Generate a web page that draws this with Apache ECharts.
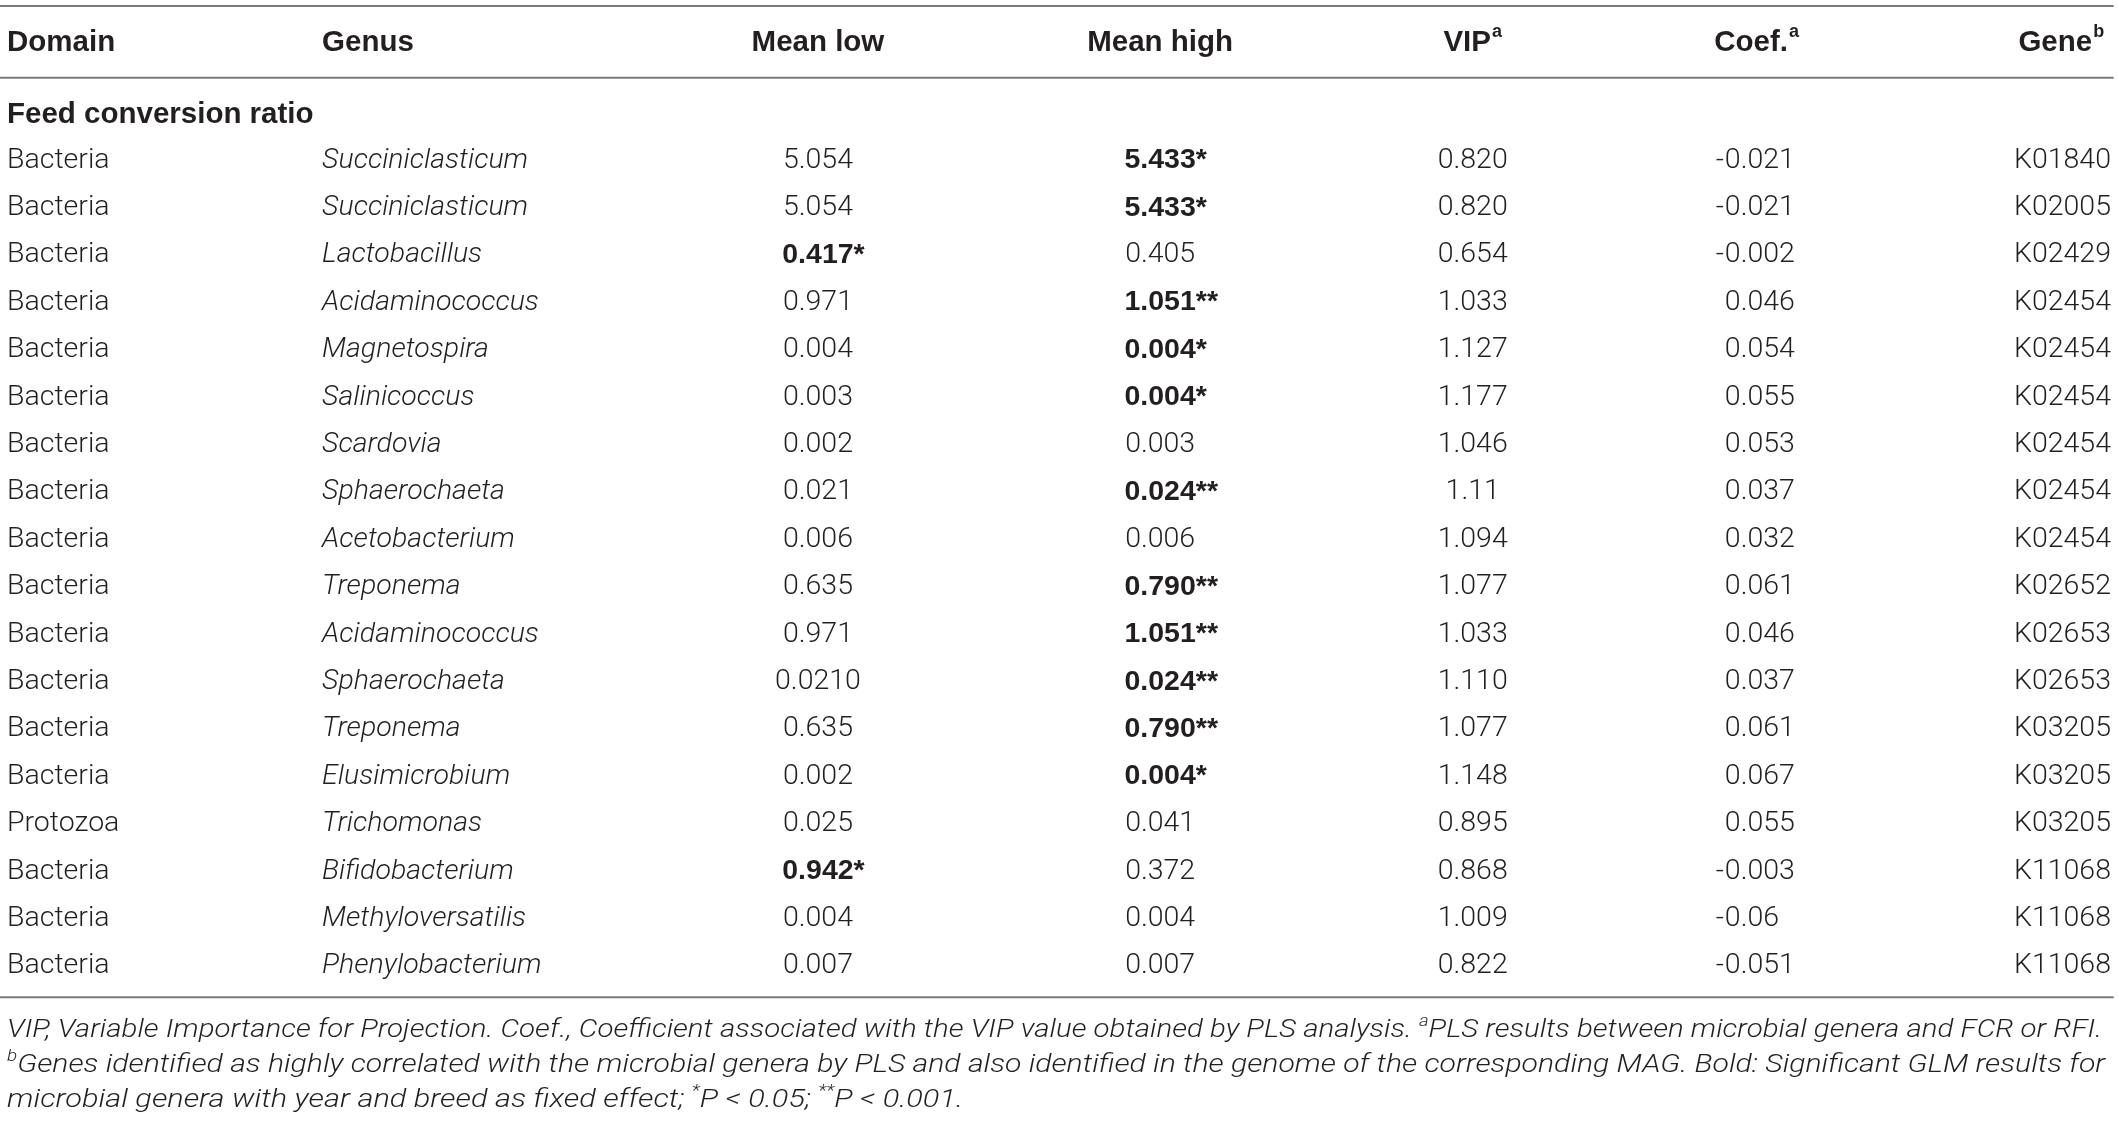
<!DOCTYPE html>
<html>
<head>
<meta charset="utf-8">
<script src="https://cdn.jsdelivr.net/npm/echarts@6/dist/echarts.min.js"></script>
<style>
html, body { margin: 0; padding: 0; background: #ffffff; }
#chart { width: 2119px; height: 1124px; }
</style>
</head>
<body>
<div id="chart"></div>
<script>
// ---------------- DATA ----------------
const headers = ['Domain', 'Genus', 'Mean low', 'Mean high', 'VIP', 'Coef.', 'Gene'];
const headerSup = ['', '', '', '', 'a', 'a', 'b'];
const sectionTitle = 'Feed conversion ratio';

const domains = ['Bacteria', 'Bacteria', 'Bacteria', 'Bacteria', 'Bacteria', 'Bacteria', 'Bacteria', 'Bacteria', 'Bacteria',
  'Bacteria', 'Bacteria', 'Bacteria', 'Bacteria', 'Bacteria', 'Protozoa', 'Bacteria', 'Bacteria', 'Bacteria'];
const genera = ['Succiniclasticum', 'Succiniclasticum', 'Lactobacillus', 'Acidaminococcus', 'Magnetospira', 'Salinicoccus',
  'Scardovia', 'Sphaerochaeta', 'Acetobacterium', 'Treponema', 'Acidaminococcus', 'Sphaerochaeta', 'Treponema',
  'Elusimicrobium', 'Trichomonas', 'Bifidobacterium', 'Methyloversatilis', 'Phenylobacterium'];
const meanLow = ['5.054', '5.054', '0.417', '0.971', '0.004', '0.003', '0.002', '0.021', '0.006',
  '0.635', '0.971', '0.0210', '0.635', '0.002', '0.025', '0.942', '0.004', '0.007'];
const meanLowSig = ['', '', '*', '', '', '', '', '', '', '', '', '', '', '', '', '*', '', ''];
const meanHigh = ['5.433', '5.433', '0.405', '1.051', '0.004', '0.004', '0.003', '0.024', '0.006',
  '0.790', '1.051', '0.024', '0.790', '0.004', '0.041', '0.372', '0.004', '0.007'];
const meanHighSig = ['*', '*', '', '**', '*', '*', '', '**', '', '**', '**', '**', '**', '*', '', '', '', ''];
const vip = ['0.820', '0.820', '0.654', '1.033', '1.127', '1.177', '1.046', '1.11', '1.094',
  '1.077', '1.033', '1.110', '1.077', '1.148', '0.895', '0.868', '1.009', '0.822'];
const coef = ['-0.021', '-0.021', '-0.002', '0.046', '0.054', '0.055', '0.053', '0.037', '0.032',
  '0.061', '0.046', '0.037', '0.061', '0.067', '0.055', '-0.003', '-0.06', '-0.051'];
const genes = ['K01840', 'K02005', 'K02429', 'K02454', 'K02454', 'K02454', 'K02454', 'K02454', 'K02454',
  'K02652', 'K02653', 'K02653', 'K03205', 'K03205', 'K03205', 'K11068', 'K11068', 'K11068'];

// footnote lines: [text, isSuperscript]
const footnoteLine1 = [['VIP, Variable Importance for Projection. Coef., Coefficient associated with the VIP value obtained by PLS analysis. ', 0], ['a', 1], ['PLS results between microbial genera and FCR or RFI.', 0]];
const footnoteLine2 = [['b', 1], ['Genes identified as highly correlated with the microbial genera by PLS and also identified in the genome of the corresponding MAG. Bold: Significant GLM results for', 0]];
const footnoteLine3 = [['microbial genera with year and breed as fixed effect; ', 0], ['*', 1], ['P < 0.05; ', 0], ['**', 1], ['P < 0.001.', 0]];

// ---------------- LAYOUT / STYLE ----------------
const L = {
  domainX: 0.33, genusX: 15.2, meanLowX: 38.6, meanHighX: 54.75, vipX: 69.5,
  coefHeaderX: 82.9, coefDecimalX: 81.4, geneX: 99.62, geneHeaderX: 99.3,
  ruleLeft: 0.0, ruleRight: 99.75,
  headerRow: -1.548, sectionRow: 0.042, rules: [-2.257, -0.745, 18.653], footRows: [19.315, 20.055, 20.795],
  footEnds: [99.2, 99.35, 45.45],
  yMin: -2.384, yMax: 21.328
};
const INK = '#231f20';
const RULE = '#7a7a7a';
const BODY_FAMILY = 'Roboto, "Liberation Sans", sans-serif';
const BOLD_FAMILY = '"Liberation Sans", Arial, sans-serif';
const BODY_SIZE = 28.5, HEAD_SIZE = 29.5, FOOT_SIZE = 25.5, FOOT_SUP = 16, HEAD_SUP = 18;

const measureCtx = document.createElement('canvas').getContext('2d');
function measure(text, style, weight, size, family) {
  measureCtx.font = style + ' ' + weight + ' ' + size + 'px ' + family;
  return measureCtx.measureText(text).width;
}

function txt(text, x, y, align, opts) {
  const o = opts || {};
  return {
    type: 'text',
    style: {
      text: text, x: x, y: y,
      align: align, verticalAlign: 'middle',
      textAlign: align, textVerticalAlign: 'middle',
      fontFamily: o.family || BODY_FAMILY,
      fontSize: o.size || BODY_SIZE,
      fontWeight: o.weight || 300,
      fontStyle: o.style || 'normal',
      fill: INK
    }
  };
}

function pushNum(children, value, sig, cx, y) {
  const bold = !!sig;
  const fam = bold ? BOLD_FAMILY : BODY_FAMILY;
  const weight = bold ? 'bold' : 300;
  children.push(txt(value, cx, y, 'center', { family: fam, weight: weight }));
  if (sig) {
    const w = measure(value, 'normal', weight, BODY_SIZE, fam);
    children.push(txt(sig, cx + w / 2, y, 'left', { family: fam, weight: weight }));
  }
}

function renderRow(params, api) {
  const i = params.dataIndex;
  const y = api.coord([0, i + 1])[1];
  const X = v => api.coord([v, 0])[0];
  const children = [];
  children.push(txt(domains[i], X(L.domainX), y, 'left'));
  children.push(txt(genera[i], X(L.genusX), y, 'left', { style: 'italic' }));
  pushNum(children, meanLow[i], meanLowSig[i], X(L.meanLowX), y);
  pushNum(children, meanHigh[i], meanHighSig[i], X(L.meanHighX), y);
  pushNum(children, vip[i], '', X(L.vipX), y);
  const c = coef[i];
  const neg = c.charAt(0) === '-';
  children.push(txt(neg ? c.slice(1) : c, X(L.coefDecimalX), y, 'left'));
  if (neg) children.push(txt('-', X(L.coefDecimalX) - 1, y, 'right'));
  children.push(txt(genes[i], X(L.geneX), y, 'right'));
  return { type: 'group', children: children };
}

function headerText(label, sup, x, y, align) {
  const rich = {
    h: { fontFamily: BOLD_FAMILY, fontWeight: 'bold', fontSize: HEAD_SIZE, fill: INK, verticalAlign: 'bottom', lineHeight: 36 },
    s: { fontFamily: BOLD_FAMILY, fontWeight: 'bold', fontSize: HEAD_SUP, fill: INK, verticalAlign: 'top', lineHeight: 36, padding: [1, 0, 0, 1] }
  };
  return {
    type: 'text',
    style: {
      text: '{h|' + label + '}' + (sup ? '{s|' + sup + '}' : ''),
      rich: rich, x: x, y: y,
      align: align, verticalAlign: 'middle', textAlign: align, textVerticalAlign: 'middle'
    }
  };
}

function footLine(segs) {
  const fam = BODY_FAMILY;
  let w = 0;
  segs.forEach(s => { w += measure(s[0], 'italic', 300, s[1] ? FOOT_SUP : FOOT_SIZE, fam); });
  const rich = {
    n: { fontFamily: fam, fontStyle: 'italic', fontWeight: 300, fontSize: FOOT_SIZE, fill: INK, verticalAlign: 'bottom', lineHeight: 30 },
    s: { fontFamily: fam, fontStyle: 'italic', fontWeight: 300, fontSize: FOOT_SUP, fill: INK, verticalAlign: 'top', lineHeight: 30 }
  };
  const text = segs.map(s => '{' + (s[1] ? 's' : 'n') + '|' + s[0] + '}').join('');
  return { text: text, rich: rich, w: w };
}

function renderFrame(params, api) {
  const X = v => api.coord([v, 0])[0];
  const Y = v => api.coord([0, v])[1];
  const children = [];
  L.rules.forEach(r => {
    children.push({
      type: 'line',
      shape: { x1: X(L.ruleLeft), y1: Y(r), x2: X(L.ruleRight), y2: Y(r) },
      style: { stroke: RULE, lineWidth: 2 }
    });
  });
  const hy = Y(L.headerRow);
  children.push(headerText(headers[0], headerSup[0], X(L.domainX), hy, 'left'));
  children.push(headerText(headers[1], headerSup[1], X(L.genusX), hy, 'left'));
  children.push(headerText(headers[2], headerSup[2], X(L.meanLowX), hy, 'center'));
  children.push(headerText(headers[3], headerSup[3], X(L.meanHighX), hy, 'center'));
  children.push(headerText(headers[4], headerSup[4], X(L.vipX), hy, 'center'));
  children.push(headerText(headers[5], headerSup[5], X(L.coefHeaderX), hy, 'center'));
  children.push(headerText(headers[6], headerSup[6], X(L.geneHeaderX), hy, 'right'));
  children.push(txt(sectionTitle, X(L.domainX), Y(L.sectionRow), 'left', { family: BOLD_FAMILY, weight: 'bold', size: HEAD_SIZE }));

  const lines = [footLine(footnoteLine1), footLine(footnoteLine2), footLine(footnoteLine3)];
  lines.forEach((f, k) => {
    const target = X(L.footEnds[k]) - X(L.domainX);
    children.push({
      type: 'text',
      x: X(L.domainX), y: Y(L.footRows[k]),
      scaleX: target / f.w, scaleY: 1,
      style: {
        text: f.text, rich: f.rich, x: 0, y: 0,
        align: 'left', verticalAlign: 'middle', textAlign: 'left', textVerticalAlign: 'middle'
      }
    });
  });
  return { type: 'group', children: children };
}

const chart = echarts.init(document.getElementById('chart'), null, { renderer: 'canvas' });
chart.setOption({
  backgroundColor: '#ffffff',
  animation: false,
  grid: { left: 0, right: 0, top: 0, bottom: 0 },
  xAxis: { type: 'value', min: 0, max: 100, show: false },
  yAxis: { type: 'value', min: L.yMin, max: L.yMax, inverse: true, show: false },
  series: [
    {
      type: 'custom', name: 'frame', clip: false, silent: true,
      data: [[0, 0]], encode: { x: 0, y: 1 },
      renderItem: renderFrame
    },
    {
      type: 'custom', name: 'rows', clip: false, silent: true,
      data: domains.map((d, i) => [0, i + 1]), encode: { x: 0, y: 1 },
      renderItem: renderRow
    }
  ]
});
</script>
</body>
</html>
